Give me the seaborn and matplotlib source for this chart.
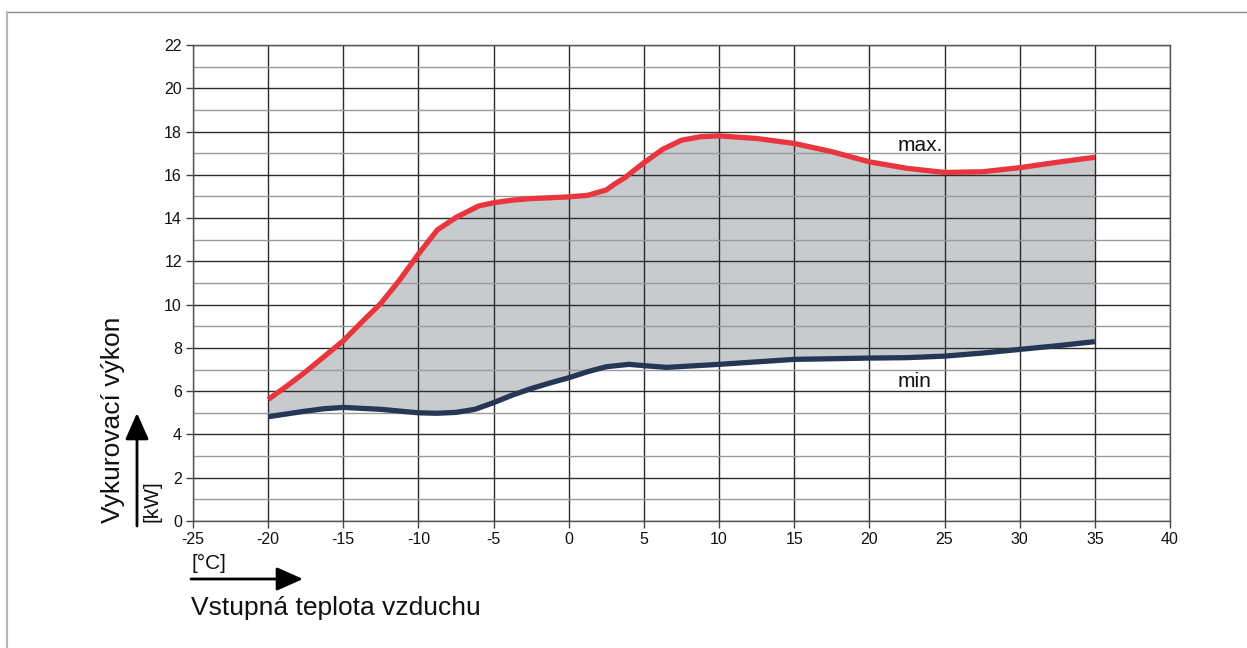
import numpy as np
import pandas as pd
import matplotlib
matplotlib.use("Agg")
import matplotlib.pyplot as plt
import seaborn as sns

# ---- data ----
max_x = [-20, -18.75, -17.5, -15, -13.75, -12.5, -11.25, -10, -8.75, -7.5, -6, -5, -3.75, -2.5, 0, 1.25,
         2.5, 3, 3.75, 5, 6.25, 7.5, 8.75, 10, 12.5, 15, 17.5, 20, 22.5, 25, 27.5, 30, 32.5, 35]
max_y = [5.62, 6.24, 6.9, 8.33, 9.21, 10.06, 11.14, 12.34, 13.45, 14.03, 14.56, 14.71, 14.83, 14.9, 14.98, 15.05,
         15.3, 15.55, 15.88, 16.56, 17.18, 17.6, 17.76, 17.8, 17.68, 17.45, 17.07, 16.6, 16.3, 16.11, 16.14, 16.33, 16.58, 16.81]
min_x = [-20, -17.5, -16.25, -15, -12.5, -10, -8.75, -7.5, -6.25, -5, -3.75, -2.5, -1.25, 0, 1.25, 2.5, 4, 5,
         6.5, 10, 15, 20, 22.5, 25, 27.5, 30, 32.5, 35]
min_y = [4.82, 5.08, 5.19, 5.25, 5.16, 5.0, 4.98, 5.02, 5.16, 5.47, 5.82, 6.12, 6.38, 6.62, 6.9, 7.13, 7.24, 7.18,
         7.1, 7.24, 7.47, 7.53, 7.55, 7.62, 7.76, 7.93, 8.1, 8.29]
x_ticks = [-25, -20, -15, -10, -5, 0, 5, 10, 15, 20, 25, 30, 35, 40]
y_ticks = [0, 2, 4, 6, 8, 10, 12, 14, 16, 18, 20, 22]
y_label = "Vykurovací výkon"
y_unit = "[kW]"
x_label = "Vstupná teplota vzduchu"
x_unit = "[°C]"

RED = "#e8353e"
NAVY = "#253756"
FILL = "#c8cbce"

sns.set_style("white")
plt.rcParams["font.family"] = ["Liberation Sans", "DejaVu Sans"]

W, H = 1247, 648
fig = plt.figure(figsize=(W / 100, H / 100), dpi=100)

def px(x, y):
    return (x / W, 1 - y / H)

ax = fig.add_axes([193 / W, 1 - 521 / H, (1170 - 193) / W, (521 - 45) / H])

df_max = pd.DataFrame({"x": max_x, "y": max_y})
df_min = pd.DataFrame({"x": min_x, "y": min_y})

xs = np.array(sorted(set(max_x) | set(min_x)), dtype=float)
ax.fill_between(xs, np.interp(xs, min_x, min_y), np.interp(xs, max_x, max_y),
                color=FILL, lw=0, zorder=1)

sns.lineplot(data=df_max, x="x", y="y", ax=ax, color=RED, lw=3.8,
             solid_capstyle="butt", solid_joinstyle="round", zorder=3, estimator=None, sort=False)
sns.lineplot(data=df_min, x="x", y="y", ax=ax, color=NAVY, lw=3.8,
             solid_capstyle="butt", solid_joinstyle="round", zorder=3, estimator=None, sort=False)

ax.set_xlim(-25, 40)
ax.set_ylim(0, 22)
ax.set_xticks(x_ticks)
ax.set_yticks(y_ticks)
ax.set_xticklabels([str(v) for v in x_ticks])
ax.set_yticklabels([str(v) for v in y_ticks])
ax.set_xlabel("")
ax.set_ylabel("")

# grid
for v in x_ticks:
    ax.axvline(v, color="#2b2b2b", lw=1.0, zorder=2)
for v in range(0, 23):
    ax.axhline(v, color="#2b2b2b" if v % 2 == 0 else "#9a9a9a", lw=1.0, zorder=2)

for s in ax.spines.values():
    s.set_visible(True)
    s.set_color("#555555")
    s.set_linewidth(1.0)

ax.tick_params(axis="both", which="major", direction="out", length=5, width=1,
               color="#444444", labelsize=11.5, labelcolor="#111111", pad=3,
               bottom=True, left=True)

# curve labels
ax.text(21.9, 17.37, "max.", fontsize=15, va="center", ha="left", color="#111111", zorder=4)
ax.text(21.9, 6.47, "min", fontsize=15, va="center", ha="left", color="#111111", zorder=4)

# axis titles & arrows
fig.text(*px(113, 523), y_label, rotation=90, fontsize=19, ha="center", va="bottom", color="#111111")
fig.text(*px(152, 522), y_unit, rotation=90, fontsize=15, ha="center", va="bottom", color="#111111")
fig.text(*px(191, 563), x_unit, fontsize=15, ha="left", va="center", color="#111111")
fig.text(*px(191, 608), x_label, fontsize=19, ha="left", va="center", color="#111111")

fig.patches.append(matplotlib.patches.FancyArrowPatch(
    px(137, 526), px(137, 413), transform=fig.transFigure,
    arrowstyle="-|>,head_length=0.9,head_width=0.4", mutation_scale=18,
    lw=2, color="black", shrinkA=0, shrinkB=0))
fig.patches.append(matplotlib.patches.FancyArrowPatch(
    px(191, 579), px(303, 579), transform=fig.transFigure,
    arrowstyle="-|>,head_length=0.9,head_width=0.4", mutation_scale=18,
    lw=2, color="black", shrinkA=0, shrinkB=0))

# outer frame (top and left only)
fig.add_artist(matplotlib.lines.Line2D([6 / W, 1], [1 - 12 / H, 1 - 12 / H],
                                       transform=fig.transFigure, color="#8a8a8a", lw=1))
fig.add_artist(matplotlib.lines.Line2D([7 / W, 7 / W], [0, 1 - 12 / H],
                                       transform=fig.transFigure, color="#b5b5b5", lw=1.5))

fig.savefig("out.png", dpi=100)
